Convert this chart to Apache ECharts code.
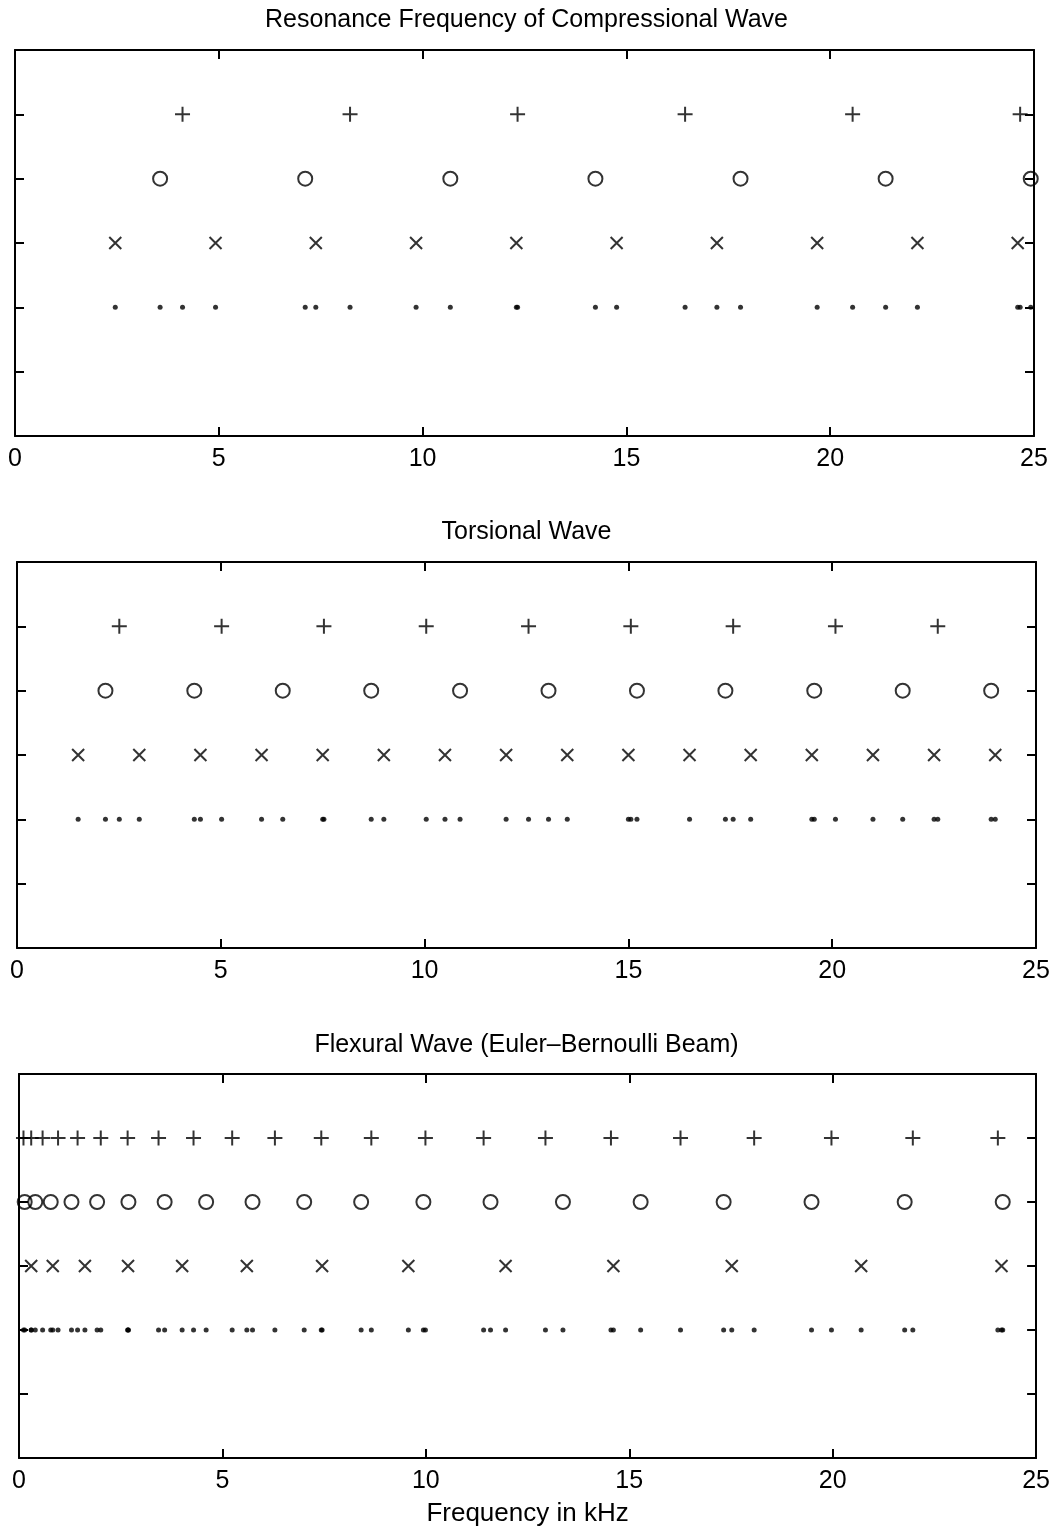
<!DOCTYPE html>
<html>
<head>
<meta charset="utf-8">
<title>Resonance Frequency</title>
<script src="https://cdn.jsdelivr.net/npm/echarts@6/dist/echarts.min.js"></script>
<style>
  html, body { margin: 0; padding: 0; background: #fff; }
  #myChart { width: 1053px; height: 1530px; }
</style>
</head>
<body>
<div id="myChart"></div>
<script>
  // axis ticks (kHz) and row levels
  var xTicks = [0, 5, 10, 15, 20, 25];
  var yTicks = [0, 1, 2, 3, 4, 5, 6];
  var rowPlus = 5, rowCircle = 4, rowCross = 3, rowDot = 2;

  var titles = [
    'Resonance Frequency of Compressional Wave',
    'Torsional Wave',
    'Flexural Wave (Euler\u2013Bernoulli Beam)'
  ];
  var xName = 'Frequency in kHz';

  // compressional wave
  var compPlus = [4.11, 8.22, 12.33, 16.44, 20.55, 24.66];
  var compCircle = [3.56, 7.12, 10.68, 14.24, 17.80, 21.36, 24.92];
  var compCross = [2.46, 4.92, 7.38, 9.84, 12.30, 14.76, 17.22, 19.68, 22.14, 24.60];

  // torsional wave
  var torsPlus = [2.51, 5.02, 7.53, 10.04, 12.55, 15.06, 17.57, 20.08, 22.59];
  var torsCircle = [2.17, 4.35, 6.52, 8.69, 10.87, 13.04, 15.21, 17.38, 19.56, 21.73, 23.90];
  var torsCross = [1.50, 3.00, 4.50, 6.00, 7.50, 9.00, 10.50, 12.00, 13.50, 15.00, 16.50, 18.00, 19.50, 21.00, 22.50, 24.00];

  // flexural wave
  var flexPlus = [0.11, 0.30, 0.58, 0.96, 1.44, 2.01, 2.67, 3.43, 4.29, 5.24, 6.29, 7.43, 8.66, 9.99, 11.42, 12.94, 14.55, 16.26, 18.07, 19.97, 21.97, 24.06];
  var flexCircle = [0.14, 0.40, 0.78, 1.29, 1.92, 2.69, 3.58, 4.60, 5.74, 7.01, 8.41, 9.94, 11.59, 13.37, 15.28, 17.32, 19.48, 21.77, 24.18];
  var flexCross = [0.30, 0.83, 1.62, 2.68, 4.01, 5.60, 7.45, 9.57, 11.96, 14.61, 17.52, 20.70, 24.15];

  var panels = [
    {plus: compPlus, circle: compCircle, cross: compCross},
    {plus: torsPlus, circle: torsCircle, cross: torsCross},
    {plus: flexPlus, circle: flexCircle, cross: flexCross}
  ];

  var grids = [
    {left: 15, top: 50, width: 1019, height: 386},
    {left: 17, top: 562, width: 1019, height: 386},
    {left: 19, top: 1074, width: 1018, height: 384}
  ];
  var titleTops = [8, 520, 1033];

  var FONT = '"Liberation Sans", Arial, Helvetica, sans-serif';
  var plusPath = 'path://M5,0L5,10M0,5L10,5';
  var crossPath = 'path://M0,0L10,10M10,0L0,10';

  function xAxisFor(i, pos) {
    var last = i === 2 && pos === 'bottom';
    return {
      type: 'value', gridIndex: i, position: pos,
      min: xTicks[0], max: xTicks[xTicks.length - 1], interval: xTicks[1] - xTicks[0],
      axisLine: {show: true, onZero: false, lineStyle: {color: '#000', width: 2}},
      axisTick: {show: true, inside: true, length: 9, lineStyle: {color: '#000', width: 2}},
      axisLabel: {show: pos === 'bottom', color: '#000', fontSize: 25, fontFamily: FONT, margin: 11},
      splitLine: {show: false},
      name: last ? xName : '',
      nameLocation: 'middle', nameGap: 43,
      nameTextStyle: {color: '#000', fontSize: 26, fontFamily: FONT}
    };
  }

  function yAxisFor(i, pos) {
    return {
      type: 'value', gridIndex: i, position: pos,
      min: yTicks[0], max: yTicks[yTicks.length - 1], interval: yTicks[1] - yTicks[0],
      axisLine: {show: true, onZero: false, lineStyle: {color: '#000', width: 2}},
      axisTick: {show: true, inside: true, length: 9, lineStyle: {color: '#000', width: 2}},
      axisLabel: {show: false},
      splitLine: {show: false}
    };
  }

  function rowSeries(i, values, level, symbol, size, filled) {
    return {
      type: 'scatter', xAxisIndex: i * 2, yAxisIndex: i * 2,
      symbol: symbol, symbolSize: size, silent: true,
      itemStyle: filled ? {color: '#000'} : {color: 'transparent', borderColor: '#000', borderWidth: 2},
      data: values.map(function (v) { return [v, level]; })
    };
  }

  function drawChart() {
    var myChart = echarts.init(document.getElementById('myChart'));
    var option = {
      backgroundColor: '#fff',
      animation: false,
      title: [], grid: [], xAxis: [], yAxis: [], series: []
    };
    panels.forEach(function (p, i) {
      option.title.push({
        text: titles[i], left: 'center', top: titleTops[i], padding: 0,
        textStyle: {color: '#000', fontSize: 25, fontWeight: 'normal', fontFamily: FONT}
      });
      option.grid.push(grids[i]);
      // second x/y axis of each grid only draws the mirrored ticks
      option.xAxis.push(xAxisFor(i, 'bottom'), xAxisFor(i, 'top'));
      option.yAxis.push(yAxisFor(i, 'left'), yAxisFor(i, 'right'));
      var dots = p.plus.concat(p.circle, p.cross);
      option.series.push(
        rowSeries(i, p.plus, rowPlus, plusPath, 15, false),
        rowSeries(i, p.circle, rowCircle, 'circle', 14, false),
        rowSeries(i, p.cross, rowCross, crossPath, 12, false),
        rowSeries(i, dots, rowDot, 'circle', 5, true)
      );
    });
    myChart.setOption(option);
  }

  drawChart();
</script>
</body>
</html>
